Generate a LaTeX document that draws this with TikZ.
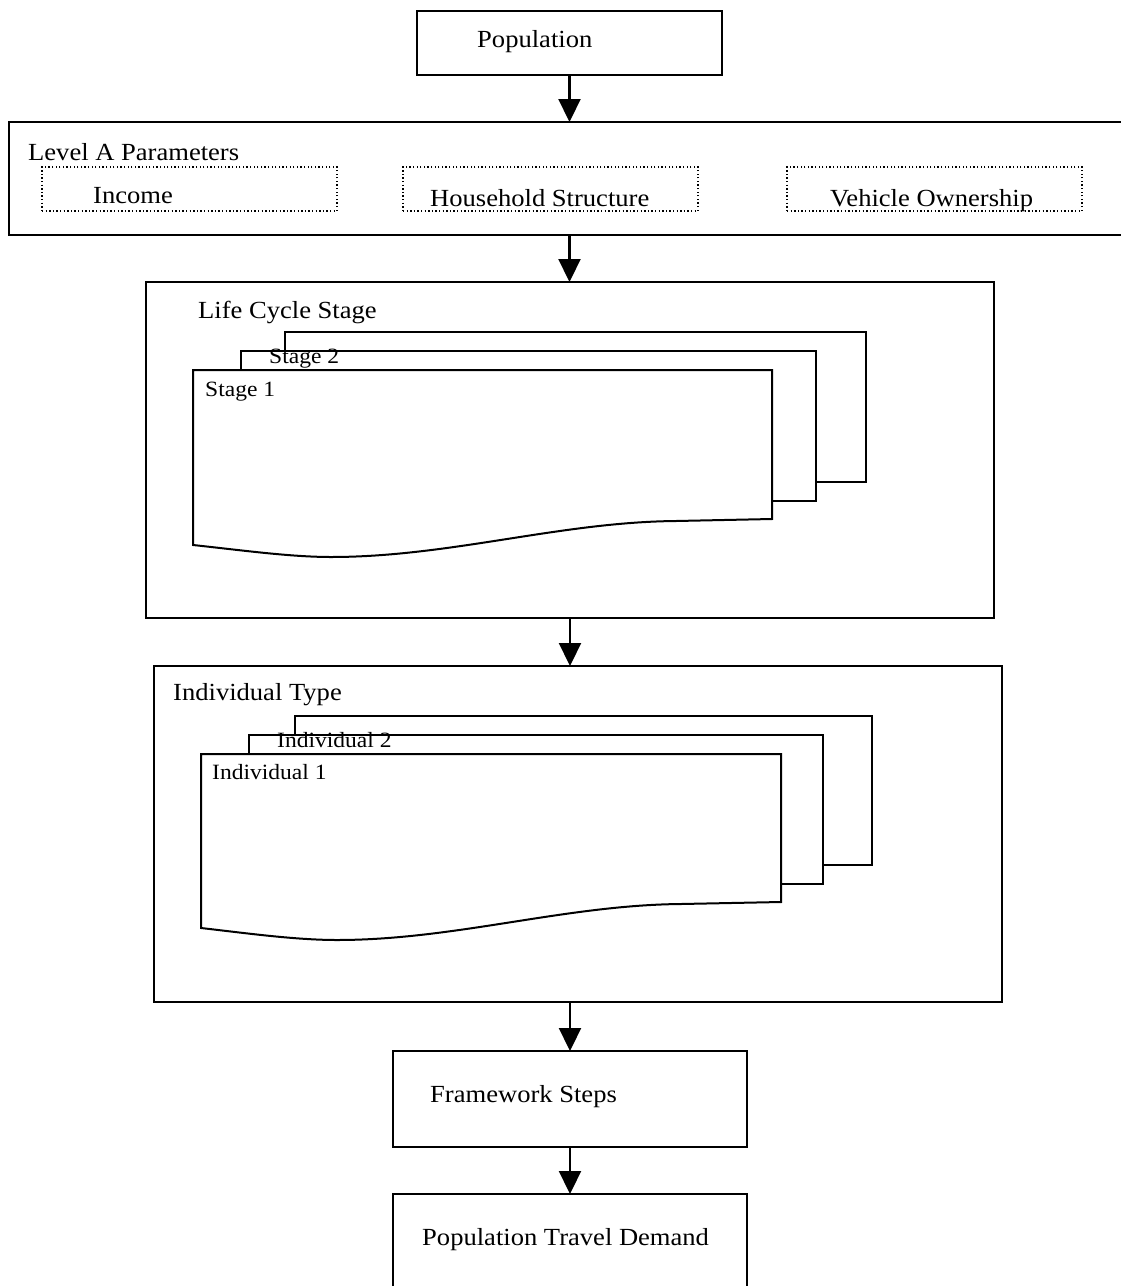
\documentclass[tikz,border=0pt]{standalone}
\usepackage{fontspec}
\setmainfont{Liberation Serif}[FakeStretch=1.08]
\usetikzlibrary{arrows.meta}
\begin{document}
\begin{tikzpicture}[x=1pt,y=-1pt,
  box/.style={draw, line width=2pt, fill=white, inner sep=0pt, outer sep=0pt, anchor=north west},
  dotbox/.style={draw, line width=1.3pt, dash pattern=on 1.3pt off 2.3pt, inner sep=0pt, outer sep=0pt, anchor=north west},
  lbl/.style={anchor=base west, inner sep=0pt, font=\fontsize{24.6}{29}\selectfont},
  sublbl/.style={anchor=base west, inner sep=0pt, font=\fontsize{21.8}{26}\selectfont},
  flow/.style={line width=2.2pt, -{Triangle[length=23pt,width=22pt]}},
  sheet/.style={draw, line width=2pt, fill=white, line join=miter}
]
\path[use as bounding box] (0,0) rectangle (1121,1286);

% main boxes
\node[box, minimum width=305pt, minimum height=64pt] (pop) at (417,11) {};
\node[box, minimum width=1140pt, minimum height=113pt] (levA) at (9,122) {};
\node[dotbox, minimum width=295pt, minimum height=44pt] (inc) at (42,167) {};
\node[dotbox, minimum width=295pt, minimum height=44pt] (hh) at (403,167) {};
\node[dotbox, minimum width=295pt, minimum height=44pt] (veh) at (787,167) {};
\node[box, minimum width=848pt, minimum height=336pt] (life) at (146,282) {};
\node[box, minimum width=848pt, minimum height=336pt] (ind) at (154,666) {};
\node[box, minimum width=354pt, minimum height=96pt] (fw) at (393,1051) {};
\node[box, minimum width=354pt, minimum height=150pt] (ptd) at (393,1194) {};

% stacked stage sheets
\draw[sheet] (285,332) rectangle (866,482);
\draw[sheet] (241,351) rectangle (816,501);
\draw[sheet] (193,370) -- (772,370) -- (772,519) -- (676,521)
  .. controls (560,522) and (450,557) .. (331,557)
  .. controls (290,557) and (240,550) .. (193,545) -- cycle;

% stacked individual sheets
\draw[sheet] (295,716) rectangle (872,865);
\draw[sheet] (249,735) rectangle (823,884);
\draw[sheet] (201,754) -- (781,754) -- (781,902) -- (681,904)
  .. controls (565,905) and (455,940) .. (337,940)
  .. controls (295,940) and (245,933) .. (201,928) -- cycle;

% connectors
\draw[flow] (pop.south) -- (pop.south |- levA.north);
\draw[flow] (pop.south |- levA.south) -- (pop.south |- life.north);
\draw[flow] (life.south) -- (life.south |- ind.north);
\draw[flow] (life.south |- ind.south) -- (fw.north);
\draw[flow] (fw.south) -- (ptd.north);

% labels
\node[lbl] (tpop) at (477,47) {Population};
\node[lbl] (tlev) at (28,160) {Level A Parameters};
\node[lbl] (tinc) at (93,203) {Income};
\node[lbl] (thh) at (430,206) {Household Structure};
\node[lbl] (tveh) at (830,206) {Vehicle Ownership};
\node[lbl] (tlife) at (198,318) {Life Cycle Stage};
\node[sublbl] (ts2) at (269,363) {Stage 2};
\node[sublbl] (ts1) at (205,396) {Stage 1};
\node[lbl] (tind) at (173,700) {Individual Type};
\node[sublbl] (ti2) at (277,747) {Individual 2};
\node[sublbl] (ti1) at (212,779) {Individual 1};
\node[lbl] (tfw) at (430,1102) {Framework Steps};
\node[lbl] (tptd) at (422,1245) {Population Travel Demand};
\end{tikzpicture}
\end{document}
